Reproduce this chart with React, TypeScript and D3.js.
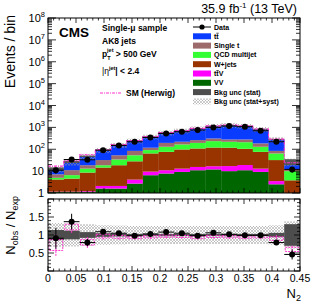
import * as d3 from "d3";

// N2 distribution, 16 bins from 0 to 0.45
const N2_MAX = 0.45;
const NBINS = 16;

const dataCounts = [11, 34, 33, 91, 150, 219, 347, 530, 630, 755, 1000, 1150, 1070, 700, 220, 12];
const dataErr = [3.3, 5.8, 5.7, 9.5, 12, 15, 19, 23, 25, 27, 32, 34, 33, 26, 15, 3.5];

// stacked backgrounds, bottom to top
const vv = [1.1, 1.1, 1.1, 1.6, 1.6, 2.7, 6.5, 7.8, 9.2, 11, 12, 10, 11, 9.2, 2.5, 0.6];
const ttv = [0.05, 0.05, 0.1, 0.5, 0.5, 1.4, 3, 3.2, 3.8, 4.5, 4.7, 7, 8, 3.8, 1, 0.1];
const wjets = [3.0, 3.4, 7.4, 12.5, 16.5, 24, 55, 65, 85, 93, 103, 101, 86, 63, 28.5, 3.1];
const qcd = [0.8, 2, 4.4, 4, 15.4, 25, 27, 54, 68, 87, 115, 102, 105, 54, 32, 6.2];
const singlet = [2.2, 4.5, 5.6, 13.4, 19, 31, 26, 65, 54, 65, 75, 60, 70, 55, 20, 2];
const ttbar = [5.8, 15.5, 29, 59, 102, 161, 253, 370, 480, 630, 840, 980, 870, 645, 196, 15];

const herwig = [17, 30, 56, 96, 162, 250, 385, 585, 720, 900, 1170, 1280, 1180, 840, 290, 24];

// relative background uncertainties
const relStat = [0.14, 0.12, 0.08, 0.05, 0.04, 0.03, 0.03, 0.03, 0.03, 0.03, 0.03, 0.03, 0.03, 0.03, 0.06, 0.3];
const relTot = [0.33, 0.32, 0.3, 0.27, 0.26, 0.25, 0.25, 0.25, 0.25, 0.25, 0.25, 0.25, 0.25, 0.25, 0.27, 0.38];

// ratio panel
const ratioData = [0.91, 1.37, 0.79, 1.09, 1.05, 0.98, 1.03, 1.08, 1.05, 0.98, 1.06, 1.02, 0.99, 0.99, 0.79, 0.46];
const ratioErr = [0.29, 0.22, 0.1, 0.07, 0.05, 0.04, 0.03, 0.03, 0.03, 0.02, 0.02, 0.02, 0.02, 0.02, 0.04, 0.14];
const herwigRatio = [0.72, 1.22, 0.8, 0.97, 0.95, 0.93, 0.95, 0.97, 0.96, 0.93, 0.96, 0.95, 0.94, 0.95, 0.9, 0.6];
const herwigRatioErr = [0.15, 0.08, 0.08, 0.05, 0.04, 0.03, 0.03, 0.03, 0.03, 0.03, 0.03, 0.03, 0.03, 0.03, 0.05, 0.06];

const stackKeys = ["vv", "ttv", "wjets", "qcd", "singlet", "ttbar"];
const stackColors: Record<string, string> = {
  ttbar: "#0a3cff",
  singlet: "#9c6a6a",
  qcd: "#33ff33",
  wjets: "#993300",
  ttv: "#ff00ff",
  vv: "#006600",
};

const legendItems = [
  { label: "Data", kind: "data" },
  { label: "tt", kind: "ttbar" },
  { label: "Single t", kind: "singlet" },
  { label: "QCD multijet", kind: "qcd" },
  { label: "W+jets", kind: "wjets" },
  { label: "ttV", kind: "ttv" },
  { label: "VV", kind: "vv" },
  { label: "Bkg unc (stat)", kind: "stat" },
  { label: "Bkg unc (stat+syst)", kind: "tot" },
];

const xTickLabels = ["0", "0.05", "0.1", "0.15", "0.2", "0.25", "0.3", "0.35", "0.4", "0.45"];
const ratioTicks = [0.5, 1, 1.5];

const W = 316, H = 303;
const L = 48, R = 300;
const TOP = 18, BOT = 193;
const RTOP = 199, RBOT = 271;
const FONT = "'Liberation Sans', Arial, Helvetica, sans-serif";
const PINK = "#ff33cc";

export default function App() {
  const edges = d3.range(NBINS + 1).map((i) => (i * N2_MAX) / NBINS);
  const x = d3.scaleLinear().domain([0, N2_MAX]).range([L, R]);
  const y = d3.scaleLog().domain([1, 1e8]).range([BOT, TOP]).clamp(true);
  const yr = d3.scaleLinear().domain([0, 2]).range([RBOT, RTOP]);

  const rows = d3.range(NBINS).map((i) => ({
    vv: vv[i], ttv: ttv[i], wjets: wjets[i], qcd: qcd[i], singlet: singlet[i], ttbar: ttbar[i],
  }));
  const series = d3.stack<any>().keys(stackKeys)(rows);
  const totals = rows.map((_, i) => series[series.length - 1][i][1]);

  const step = d3
    .line<[number, number]>()
    .x((d) => d[0])
    .y((d) => d[1])
    .curve(d3.curveStepAfter);
  const herwigPts: [number, number][] = herwig.map((v, i) => [x(edges[i]), y(v)] as [number, number]);
  herwigPts.push([x(edges[NBINS]), y(herwig[NBINS - 1])]);

  // ticks
  const xMinor = d3.range(0, 46).map((i) => i / 100);
  const xMajor = d3.range(0, 10).map((i) => i * 0.05);
  const decades = d3.range(0, 9);
  const logMinor: number[] = [];
  for (let e = 0; e < 8; e++) for (let m = 2; m <= 9; m++) logMinor.push(m * Math.pow(10, e));
  const rMinor = d3.range(0, 21).map((i) => i / 10);

  const tickLines: JSX.Element[] = [];
  let k = 0;
  const tl = (x1: number, y1: number, x2: number, y2: number) =>
    tickLines.push(<line key={k++} x1={x1} y1={y1} x2={x2} y2={y2} stroke="#000" strokeWidth={0.8} />);

  xMinor.forEach((v) => {
    const major = xMajor.some((m) => Math.abs(m - v) < 1e-9);
    const len = major ? 5 : 2.5;
    const px = x(v);
    tl(px, BOT, px, BOT - len);
    tl(px, TOP, px, TOP + len);
    tl(px, RBOT, px, RBOT - len);
    tl(px, RTOP, px, RTOP + len);
  });
  decades.forEach((e) => {
    const py = y(Math.pow(10, e));
    tl(L, py, L + 8, py);
    tl(R, py, R - 8, py);
  });
  logMinor.forEach((v) => {
    const py = y(v);
    tl(L, py, L + 4, py);
    tl(R, py, R - 4, py);
  });
  rMinor.forEach((v) => {
    const major = Math.abs((v * 2) % 1) < 1e-9 || Math.abs((v * 2) % 1 - 1) < 1e-9;
    const len = major ? 6 : 3;
    const py = yr(v);
    tl(L, py, L + len, py);
    tl(R, py, R - len, py);
  });

  const bw = (i: number) => x(edges[i + 1]) - x(edges[i]);

  return (
    <svg width={W} height={H} style={{ position: "absolute", left: 0, top: 0, background: "#fff" }} fontFamily={FONT}>
      <defs>
        <pattern id="hatch" patternUnits="userSpaceOnUse" width={3} height={3}>
          <path d="M0,3 L3,0 M0,0 L3,3" stroke="#9a9a9a" strokeWidth={0.5} />
        </pattern>
        <clipPath id="upclip">
          <rect x={L} y={TOP} width={R - L} height={BOT - TOP} />
        </clipPath>
        <clipPath id="rclip">
          <rect x={L} y={RTOP} width={R - L} height={RBOT - RTOP} />
        </clipPath>
      </defs>
      <rect width={W} height={H} fill="#fff" />

      {/* upper panel */}
      <g clipPath="url(#upclip)">
        {series.map((s) => (
          <g key={s.key} fill={stackColors[s.key]}>
            {s.map((d, i) => {
              const y0 = y(Math.max(d[0], 1));
              const y1 = y(Math.max(d[1], 1));
              return y0 - y1 > 0 ? (
                <rect key={i} x={x(edges[i])} y={y1} width={bw(i) + 0.3} height={y0 - y1} />
              ) : null;
            })}
          </g>
        ))}
        {totals.map((t, i) => (
          <rect key={"tot" + i} x={x(edges[i])} y={y(t * (1 + relTot[i]))} width={bw(i)}
            height={y(t * (1 - relTot[i])) - y(t * (1 + relTot[i]))} fill="url(#hatch)" />
        ))}
        {totals.map((t, i) => (
          <rect key={"st" + i} x={x(edges[i])} y={y(t * (1 + relStat[i]))} width={bw(i)}
            height={Math.max(0.8, y(t * (1 - relStat[i])) - y(t * (1 + relStat[i])))} fill="#555" />
        ))}
        <path d={step(herwigPts) || ""} fill="none" stroke={PINK} strokeWidth={1.1} strokeDasharray="3,1,1,1" />
        {dataCounts.map((v, i) => {
          const cx = (x(edges[i]) + x(edges[i + 1])) / 2;
          return (
            <g key={"d" + i} stroke="#000" strokeWidth={1}>
              <line x1={x(edges[i])} x2={x(edges[i + 1])} y1={y(v)} y2={y(v)} />
              <line x1={cx} x2={cx} y1={y(v - dataErr[i])} y2={y(v + dataErr[i])} />
              <circle cx={cx} cy={y(v)} r={3} fill="#000" stroke="none" />
            </g>
          );
        })}
      </g>

      {/* ratio panel */}
      <g clipPath="url(#rclip)">
        {relTot.map((e, i) => (
          <rect key={"rt" + i} x={x(edges[i])} y={yr(1 + e)} width={bw(i) + 0.3}
            height={yr(1 - e) - yr(1 + e)} fill="url(#hatch)" />
        ))}
        {relStat.map((e, i) => (
          <rect key={"rs" + i} x={x(edges[i])} y={yr(1 + e)} width={bw(i) + 0.3}
            height={yr(1 - e) - yr(1 + e)} fill="#4d4d4d" />
        ))}
        {herwigRatio.map((v, i) => (
          <g key={"hr" + i} fill="none" stroke={PINK} strokeWidth={1} strokeDasharray="2,1">
            <rect x={x(edges[i]) + 1} y={yr(v + herwigRatioErr[i])} width={bw(i) - 2}
              height={yr(v - herwigRatioErr[i]) - yr(v + herwigRatioErr[i])} />
            <line x1={(x(edges[i]) + x(edges[i + 1])) / 2} x2={(x(edges[i]) + x(edges[i + 1])) / 2}
              y1={yr(v - 2 * herwigRatioErr[i])} y2={yr(v + 2 * herwigRatioErr[i])} />
          </g>
        ))}
        {ratioData.map((v, i) => {
          const cx = (x(edges[i]) + x(edges[i + 1])) / 2;
          return (
            <g key={"r" + i} stroke="#000" strokeWidth={1}>
              <line x1={x(edges[i])} x2={x(edges[i + 1])} y1={yr(v)} y2={yr(v)} />
              <line x1={cx} x2={cx} y1={yr(v - ratioErr[i])} y2={yr(v + ratioErr[i])} />
              <circle cx={cx} cy={yr(v)} r={3} fill="#000" stroke="none" />
            </g>
          );
        })}
      </g>

      {/* frames and ticks */}
      <rect x={L} y={TOP} width={R - L} height={BOT - TOP} fill="none" stroke="#000" strokeWidth={1} />
      <rect x={L} y={RTOP} width={R - L} height={RBOT - RTOP} fill="none" stroke="#000" strokeWidth={1} />
      {tickLines}

      {/* y tick labels, upper */}
      {decades.map((e) => (
        <text key={"yl" + e} x={e < 2 ? 44 : 45} y={y(Math.pow(10, e)) + 4} textAnchor="end" fontSize={11}>
          {e === 0 ? "1" : "10"}
          {e >= 2 ? <tspan dy={-5} fontSize={7.5}>{e}</tspan> : null}
        </text>
      ))}
      {ratioTicks.map((v) => (
        <text key={"rl" + v} x={44} y={yr(v) + 4} textAnchor="end" fontSize={11}>{v}</text>
      ))}
      {xTickLabels.map((s, i) => (
        <text key={"xl" + s} x={x(xMajor[i] ?? N2_MAX)} y={282} textAnchor="middle" fontSize={10.5}>{s}</text>
      ))}

      {/* axis titles */}
      <text transform="translate(15,15) rotate(-90)" textAnchor="end" fontSize={14}>Events / bin</text>
      <text transform="translate(15,196) rotate(-90)" textAnchor="end" fontSize={13}>
        N<tspan fontSize={9} dy={3}>obs</tspan><tspan dy={-3}> / N</tspan><tspan fontSize={9} dy={3}>exp</tspan>
      </text>
      <text x={301} y={298} textAnchor="end" fontSize={13}>
        N<tspan fontSize={9} dy={3}>2</tspan>
      </text>

      {/* header */}
      <text x={297} y={13} textAnchor="end" fontSize={12.5}>
        35.9 fb<tspan fontSize={8} dy={-5}>-1</tspan><tspan dy={5}> (13 TeV)</tspan>
      </text>
      <text x={59} y={37} fontSize={13.5} fontWeight="bold">CMS</text>

      <g fontSize={8.5} fontWeight="bold">
        <text x={102} y={31}>Single-μ sample</text>
        <text x={102} y={44}>AK8 jets</text>
        <text x={102} y={57}>
          p<tspan fontSize={5.5} dy={3}>T</tspan><tspan fontSize={5.5} dx={-3.5} dy={-8}>jet</tspan>
          <tspan dy={5}> &gt; 500 GeV</tspan>
        </text>
        <text x={102} y={74} fontWeight="normal">
          |η<tspan fontSize={5.5} dy={-4} fontWeight="bold">jet</tspan><tspan dy={4} fontWeight="bold">| &lt; 2.4</tspan>
        </text>
        <line x1={100} x2={122} y1={93} y2={93} stroke={PINK} strokeWidth={1.1} strokeDasharray="3,1,1,1" />
        <text x={126} y={96}>SM (Herwig)</text>
      </g>

      {/* legend */}
      <g fontSize={7} fontWeight="bold">
        {legendItems.map((it, i) => {
          const cy = 27 + i * 9.3;
          let sym: JSX.Element;
          if (it.kind === "data") {
            sym = (
              <g>
                <line x1={193} x2={211} y1={cy} y2={cy} stroke="#000" strokeWidth={1} />
                <circle cx={202} cy={cy} r={2.6} fill="#000" />
              </g>
            );
          } else if (it.kind === "stat") {
            sym = <rect x={193} y={cy - 3} width={18} height={6} fill="#4d4d4d" />;
          } else if (it.kind === "tot") {
            sym = <rect x={193} y={cy - 3} width={18} height={6} fill="url(#hatch)" />;
          } else {
            sym = <rect x={193} y={cy - 3} width={18} height={6} fill={stackColors[it.kind]} />;
          }
          let label: JSX.Element | string = it.label;
          if (it.kind === "ttbar")
            label = <>t<tspan style={{ textDecoration: "overline" }}>t</tspan></>;
          if (it.kind === "ttv")
            label = <>t<tspan style={{ textDecoration: "overline" }}>t</tspan>V</>;
          return (
            <g key={it.label}>
              {sym}
              <text x={214} y={cy + 2.5}>{label}</text>
            </g>
          );
        })}
      </g>
    </svg>
  );
}
